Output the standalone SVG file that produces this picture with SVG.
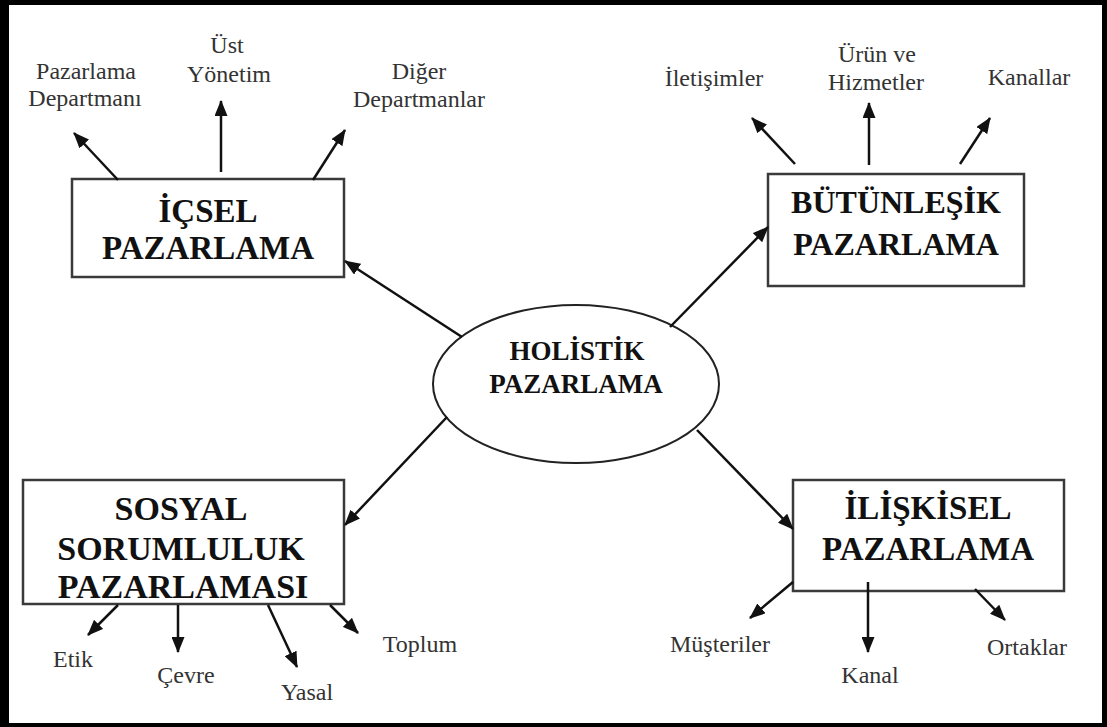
<svg xmlns="http://www.w3.org/2000/svg" width="1107" height="727" viewBox="0 0 1107 727">
<defs>
<marker id="ah" viewBox="0 0 16 13" refX="15" refY="6.5" markerWidth="16" markerHeight="13" markerUnits="userSpaceOnUse" orient="auto">
<path d="M0,0 L16,6.5 L0,13 z" fill="#111"/>
</marker>
<style>
.box{fill:#fff;stroke:#3a3a3a;stroke-width:2.5}
.ell{fill:#fff;stroke:#222;stroke-width:2}
.t{font-family:"Liberation Serif","Times New Roman",serif;font-weight:bold;fill:#111;text-anchor:middle}
.l{font-family:"Liberation Serif","Times New Roman",serif;font-size:24px;fill:#333;text-anchor:middle}
.c line{stroke:#111;stroke-width:2.5;marker-end:url(#ah)}
</style>
</defs>
<rect width="1107" height="727" fill="#fff"/>
<path d="M0,0 H1107 V727 H0 Z M9,5 V723 H1102 V5 Z" fill="#000" fill-rule="evenodd"/>

<g id="icsel">
<rect class="box" x="72" y="179" width="272" height="98"/>
<text class="t" x="208" y="222" font-size="33">İÇSEL</text>
<text class="t" x="208" y="259" font-size="33">PAZARLAMA</text>
</g>
<g id="butunlesik">
<rect class="box" x="768" y="174" width="256" height="112"/>
<text class="t" x="896" y="213" font-size="32">BÜTÜNLEŞİK</text>
<text class="t" x="896" y="255" font-size="32">PAZARLAMA</text>
</g>
<g id="sosyal">
<rect class="box" x="23" y="480" width="321" height="124"/>
<text class="t" x="181" y="520" font-size="34">SOSYAL</text>
<text class="t" x="181" y="560" font-size="34">SORUMLULUK</text>
<text class="t" x="183" y="598" font-size="34">PAZARLAMASI</text>
</g>
<g id="iliskisel">
<rect class="box" x="793" y="480" width="271" height="111"/>
<text class="t" x="928" y="519" font-size="33">İLİŞKİSEL</text>
<text class="t" x="928" y="560" font-size="33">PAZARLAMA</text>
</g>
<g id="holistik">
<ellipse class="ell" cx="576" cy="384" rx="143" ry="79"/>
<text class="t" x="577" y="360" font-size="27">HOLİSTİK</text>
<text class="t" x="576" y="393" font-size="27">PAZARLAMA</text>
</g>

<g id="labels">
<text class="l" x="86" y="79">Pazarlama</text>
<text class="l" x="85" y="106">Departmanı</text>
<text class="l" x="227" y="53">Üst</text>
<text class="l" x="229" y="82">Yönetim</text>
<text class="l" x="419" y="79">Diğer</text>
<text class="l" x="419" y="107">Departmanlar</text>
<text class="l" x="714" y="86">İletişimler</text>
<text class="l" x="877" y="62">Ürün ve</text>
<text class="l" x="876" y="90">Hizmetler</text>
<text class="l" x="1029" y="85">Kanallar</text>
<text class="l" x="73" y="667">Etik</text>
<text class="l" x="186" y="683">Çevre</text>
<text class="l" x="307" y="700">Yasal</text>
<text class="l" x="420" y="652">Toplum</text>
<text class="l" x="720" y="652">Müşteriler</text>
<text class="l" x="870" y="683">Kanal</text>
<text class="l" x="1027" y="655">Ortaklar</text>
</g>

<g id="connectors" class="c">
<line x1="462" y1="337" x2="345" y2="261"/>
<line x1="670" y1="327" x2="768" y2="227"/>
<line x1="447" y1="417" x2="345" y2="525"/>
<line x1="697" y1="430" x2="793" y2="529"/>
<line x1="118" y1="180" x2="74" y2="133"/>
<line x1="221" y1="172" x2="221" y2="101"/>
<line x1="313" y1="180" x2="345" y2="130"/>
<line x1="795" y1="164" x2="752" y2="118"/>
<line x1="869" y1="165" x2="869" y2="103"/>
<line x1="960" y1="164" x2="990" y2="118"/>
<line x1="118" y1="605" x2="88" y2="635"/>
<line x1="178" y1="605" x2="178" y2="652"/>
<line x1="268" y1="605" x2="297" y2="667"/>
<line x1="330" y1="605" x2="358" y2="633"/>
<line x1="793" y1="582" x2="750" y2="618"/>
<line x1="868" y1="582" x2="868" y2="652"/>
<line x1="975" y1="589" x2="1005" y2="620"/>
</g>
</svg>
